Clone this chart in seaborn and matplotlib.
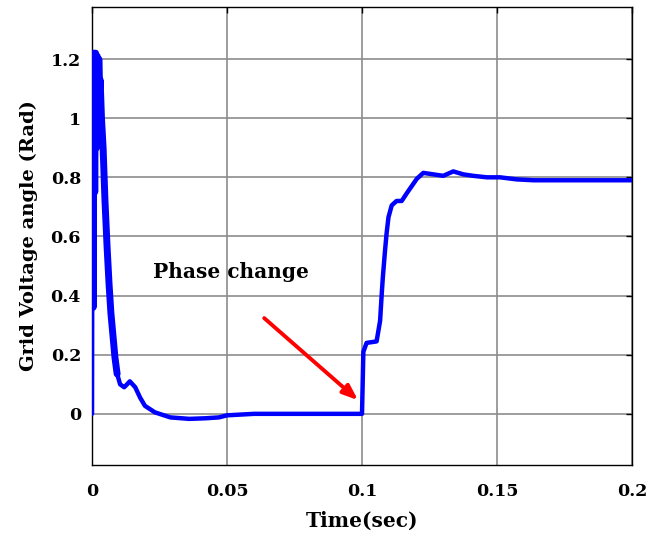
import matplotlib
matplotlib.use("Agg")
import matplotlib.pyplot as plt
import seaborn as sns
import pandas as pd

time_s = [0, 0.0002, 0.0004, 0.0007, 0.001, 0.0013, 0.0016, 0.0019, 0.0022, 0.0025,
          0.0028, 0.003, 0.0035, 0.0041, 0.0048, 0.0056, 0.0063, 0.007, 0.0078, 0.0085,
          0.0093, 0.0104, 0.0119, 0.013, 0.014, 0.016, 0.0178, 0.0196, 0.0233, 0.029,
          0.036, 0.042, 0.047, 0.05, 0.06, 0.08, 0.1,
          0.1005, 0.1017, 0.1054, 0.1067, 0.1073, 0.1077, 0.1085, 0.1091, 0.1098, 0.111,
          0.1128, 0.1147, 0.1165, 0.1184, 0.1203, 0.1227, 0.1264, 0.1301, 0.1338, 0.1375,
          0.1412, 0.1462, 0.1511, 0.1573, 0.1635, 0.2]
angle_rad = [0, 1.21, 0.36, 1.22, 0.75, 1.22, 0.9, 1.21, 0.95, 1.2,
             1.1, 1.13, 1.0, 0.9, 0.72, 0.56, 0.44, 0.34, 0.26, 0.19,
             0.135, 0.10, 0.09, 0.10, 0.11, 0.09, 0.055, 0.027, 0.005, -0.012,
             -0.017, -0.015, -0.012, -0.005, 0.0, 0.0, 0.0,
             0.21, 0.24, 0.245, 0.315, 0.405, 0.46, 0.55, 0.61, 0.665, 0.705,
             0.72, 0.72, 0.745, 0.77, 0.795, 0.815, 0.81, 0.805, 0.82, 0.81,
             0.805, 0.80, 0.80, 0.793, 0.79, 0.79]

x_ticks = [0, 0.05, 0.1, 0.15, 0.2]
x_tick_labels = ["0", "0.05", "0.1", "0.15", "0.2"]
y_ticks = [0, 0.2, 0.4, 0.6, 0.8, 1.0, 1.2]
y_tick_labels = ["0", "0.2", "0.4", "0.6", "0.8", "1", "1.2"]

df = pd.DataFrame({"t": time_s, "a": angle_rad})
early = df.iloc[1:21]

sns.set_style("white")
plt.rcParams["font.family"] = ["DejaVu Serif", "Liberation Serif"]
plt.rcParams["font.weight"] = "bold"
plt.rcParams["text.color"] = "black"
plt.rcParams["axes.labelcolor"] = "black"
plt.rcParams["xtick.color"] = "black"
plt.rcParams["ytick.color"] = "black"

fig = plt.figure(figsize=(6.49, 5.39), dpi=100)
ax = fig.add_axes([0.1418, 0.1373, 0.832, 0.8497])

sns.lineplot(data=df, x="t", y="a", sort=False, estimator=None, ax=ax,
             color="#0000ff", linewidth=3.2, zorder=3)
sns.lineplot(data=early, x="t", y="a", sort=False, estimator=None, ax=ax,
             color="#0000ff", linewidth=5.0, zorder=3)

ax.set_xlim(0, 0.2)
ax.set_ylim(-0.173, 1.376)
ax.set_xticks(x_ticks)
ax.set_xticklabels(x_tick_labels)
ax.set_yticks(y_ticks)
ax.set_yticklabels(y_tick_labels)
ax.grid(True, color="#8c8c8c", linewidth=1.2, zorder=0)
ax.set_axisbelow(True)
for s in ax.spines.values():
    s.set_visible(True)
    s.set_color("black")
    s.set_linewidth(1.0)
ax.tick_params(direction="in", length=4, width=1, top=True, right=True,
               labelsize=12.5, colors="black")
ax.tick_params(axis="x", pad=13)
ax.tick_params(axis="y", pad=8)
for lab in ax.get_xticklabels() + ax.get_yticklabels():
    lab.set_fontweight("bold")

ax.set_xlabel("Time(sec)", fontsize=14.5, fontweight="bold", labelpad=8, color="black")
ax.set_ylabel("Grid Voltage angle (Rad)", fontsize=14, fontweight="bold", labelpad=9,
              color="black")

ax.text(0.0226, 0.458, "Phase change", fontsize=14.5, fontweight="bold",
        ha="left", va="baseline", zorder=5, color="black")
ax.annotate("", xy=(0.0993, 0.04), xytext=(0.063, 0.33),
            arrowprops=dict(arrowstyle="-|>,head_length=0.9,head_width=0.35",
                            color="red", lw=2.8), zorder=6)

fig.savefig("out.png", dpi=100)
